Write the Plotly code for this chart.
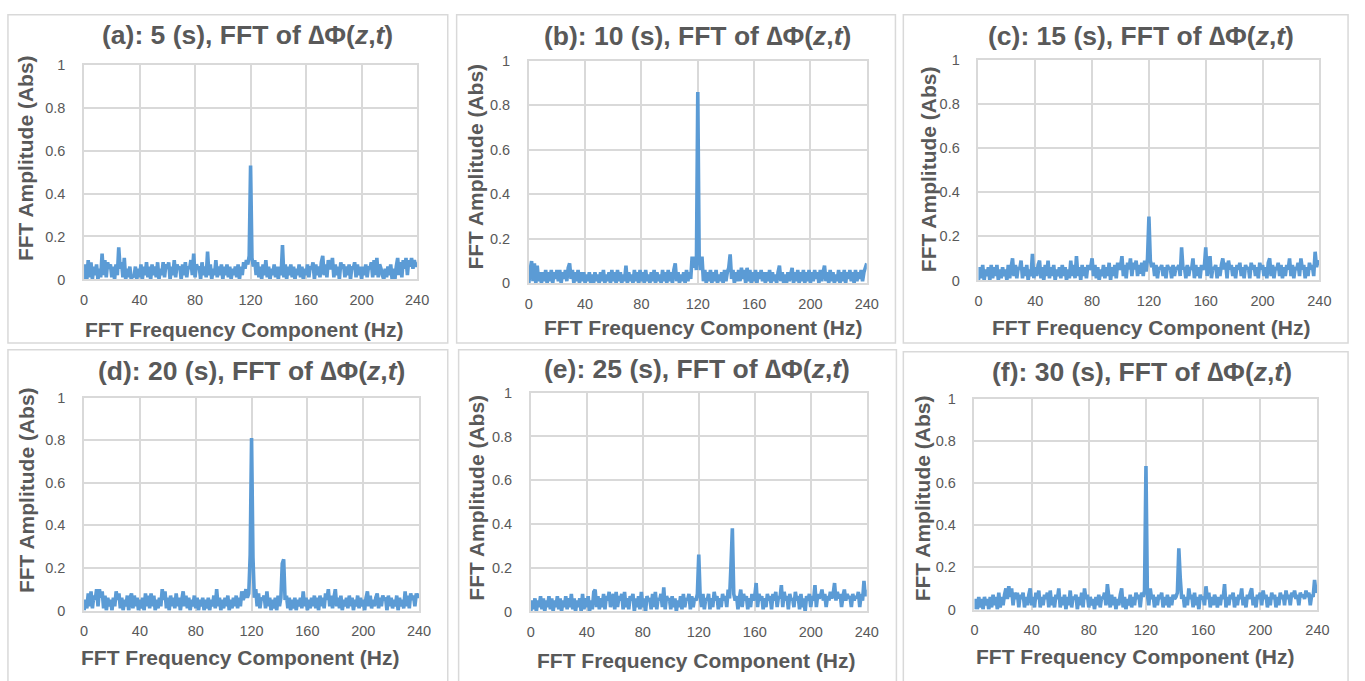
import plotly.graph_objects as go

# ---------------- data (FFT amplitude, 1 Hz bins, 0..240 Hz) ----------------
panel_titles = [
    "(a): 5 (s), FFT of ∆Φ(<i>z</i>,<i>t</i>)",
    "(b): 10 (s), FFT of ∆Φ(<i>z</i>,<i>t</i>)",
    "(c): 15 (s), FFT of ∆Φ(<i>z</i>,<i>t</i>)",
    "(d): 20 (s), FFT of ∆Φ(<i>z</i>,<i>t</i>)",
    "(e): 25 (s), FFT of ∆Φ(<i>z</i>,<i>t</i>)",
    "(f): 30 (s), FFT of ∆Φ(<i>z</i>,<i>t</i>)",
]
x_title = "FFT Frequency Component (Hz)"
y_title = "FFT Amplitude (Abs)"
x_ticks = [0, 40, 80, 120, 160, 200, 240]
y_ticks = [0, 0.2, 0.4, 0.6, 0.8, 1]

amp_a = [
    .00,.07,.00,.09,.01,.08,.00,.06,.02,.07,
    .00,.05,.01,.12,.02,.09,.01,.08,.05,.07,
    .01,.06,.00,.07,.02,.15,.05,.08,.01,.10,
    .00,.05,.01,.06,.00,.02,.01,.06,.00,.05,
    .01,.07,.00,.06,.02,.08,.01,.06,.00,.07,
    .02,.06,.01,.08,.00,.05,.02,.08,.01,.07,
    .05,.08,.00,.06,.02,.09,.01,.07,.05,.06,
    .00,.07,.02,.08,.01,.06,.05,.09,.02,.12,
    .01,.07,.05,.06,.00,.08,.02,.06,.01,.13,
    .02,.07,.00,.05,.02,.09,.01,.06,.02,.07,
    .00,.06,.02,.07,.01,.06,.00,.05,.02,.06,
    .01,.07,.00,.06,.02,.08,.05,.09,.07,.11,
    .53,.10,.06,.09,.02,.08,.01,.06,.00,.07,
    .02,.09,.01,.06,.00,.05,.02,.07,.01,.06,
    .00,.06,.02,.16,.01,.07,.00,.06,.02,.07,
    .01,.06,.00,.05,.02,.07,.01,.06,.00,.05,
    .02,.07,.01,.06,.05,.08,.00,.07,.02,.06,
    .01,.08,.11,.02,.07,.01,.09,.05,.06,.10,
    .01,.07,.02,.06,.00,.08,.05,.07,.01,.06,
    .02,.07,.00,.06,.05,.08,.01,.07,.02,.06,
    .00,.06,.02,.07,.01,.06,.05,.08,.01,.09,
    .02,.10,.01,.07,.05,.02,.00,.05,.01,.06,
    .02,.07,.00,.05,.00,.06,.10,.02,.08,.01,
    .09,.05,.10,.02,.09,.06,.10,.05,.09,.06,
    .08,
]
amp_b = [
    .00,.06,.10,.01,.09,.00,.08,.01,.05,.00,
    .05,.01,.06,.00,.05,.01,.06,.00,.05,.02,
    .06,.01,.06,.00,.05,.02,.06,.01,.07,.09,
    .02,.06,.00,.05,.01,.06,.00,.05,.01,.05,
    .00,.04,.01,.05,.00,.04,.00,.05,.01,.04,
    .00,.05,.01,.06,.00,.04,.01,.05,.00,.06,
    .01,.05,.00,.06,.01,.05,.00,.04,.01,.08,
    .00,.05,.01,.04,.00,.06,.01,.05,.00,.06,
    .01,.05,.00,.06,.01,.04,.00,.05,.01,.06,
    .00,.05,.01,.04,.00,.06,.01,.05,.00,.06,
    .01,.05,.00,.06,.09,.01,.05,.00,.04,.01,
    .05,.00,.06,.01,.05,.02,.12,.07,.12,.06,
    .86,.12,.06,.12,.01,.06,.00,.05,.01,.06,
    .00,.05,.01,.06,.00,.04,.01,.05,.00,.06,
    .01,.05,.07,.13,.02,.06,.00,.05,.01,.06,
    .01,.07,.02,.06,.00,.07,.01,.06,.00,.05,
    .01,.06,.00,.05,.02,.06,.01,.05,.00,.05,
    .01,.06,.00,.05,.01,.04,.00,.05,.08,.01,
    .05,.00,.04,.00,.05,.01,.04,.07,.00,.05,
    .01,.06,.00,.05,.01,.06,.00,.05,.01,.06,
    .00,.05,.01,.06,.02,.05,.00,.06,.01,.05,
    .08,.01,.05,.00,.06,.01,.05,.00,.04,.01,
    .06,.00,.05,.01,.06,.00,.05,.02,.06,.01,
    .05,.00,.06,.01,.05,.02,.06,.01,.05,.07,
    .09,
]
amp_c = [
    .00,.06,.01,.07,.00,.05,.02,.06,.00,.07,
    .01,.06,.02,.07,.00,.05,.01,.06,.02,.05,
    .00,.07,.01,.06,.10,.02,.07,.01,.06,.05,
    .09,.01,.06,.02,.07,.00,.05,.02,.12,.01,
    .06,.02,.07,.09,.01,.06,.00,.07,.02,.09,
    .01,.06,.02,.07,.00,.05,.02,.06,.01,.07,
    .02,.06,.00,.05,.01,.09,.02,.07,.01,.11,
    .02,.06,.00,.07,.02,.06,.01,.07,.05,.06,
    .10,.02,.07,.01,.06,.00,.05,.02,.07,.01,
    .06,.02,.08,.00,.06,.02,.07,.01,.08,.05,
    .06,.11,.02,.07,.01,.08,.05,.10,.02,.08,
    .05,.09,.02,.07,.03,.08,.02,.09,.04,.10,
    .29,.09,.06,.08,.02,.07,.01,.06,.05,.07,
    .02,.06,.01,.07,.05,.06,.01,.07,.02,.06,
    .05,.07,.02,.15,.05,.06,.01,.07,.02,.06,
    .05,.10,.01,.07,.02,.06,.01,.07,.05,.06,
    .15,.02,.07,.11,.01,.06,.05,.07,.01,.06,
    .02,.07,.10,.05,.08,.01,.09,.05,.07,.02,
    .06,.01,.07,.05,.08,.02,.06,.01,.07,.05,
    .06,.01,.08,.05,.07,.02,.06,.01,.08,.05,
    .07,.02,.06,.01,.08,.10,.02,.07,.01,.06,
    .05,.08,.02,.07,.01,.06,.02,.07,.05,.10,
    .02,.07,.01,.06,.05,.08,.02,.10,.05,.07,
    .01,.06,.02,.08,.05,.07,.02,.13,.06,.09,
    .07,
]
amp_d = [
    .00,.05,.01,.08,.02,.09,.01,.07,.05,.10,
    .02,.10,.06,.09,.01,.07,.00,.06,.02,.05,
    .00,.06,.02,.09,.05,.08,.01,.06,.00,.05,
    .02,.07,.00,.06,.08,.01,.07,.02,.06,.00,
    .05,.01,.06,.00,.08,.02,.07,.01,.08,.02,
    .07,.00,.05,.01,.06,.02,.10,.05,.09,.01,
    .06,.00,.07,.02,.06,.01,.08,.02,.06,.00,
    .05,.09,.02,.07,.01,.06,.00,.05,.02,.07,
    .01,.06,.00,.05,.02,.06,.00,.05,.01,.06,
    .00,.05,.02,.07,.01,.10,.02,.06,.00,.05,
    .01,.06,.02,.07,.00,.05,.01,.06,.02,.07,
    .01,.06,.02,.09,.05,.07,.10,.06,.08,.26,
    .81,.25,.06,.10,.02,.08,.01,.06,.05,.07,
    .01,.09,.02,.06,.00,.05,.01,.06,.00,.07,
    .02,.06,.22,.24,.05,.07,.01,.06,.00,.05,
    .01,.06,.00,.05,.02,.06,.01,.09,.02,.06,
    .00,.05,.01,.06,.02,.07,.01,.06,.00,.07,
    .02,.06,.01,.08,.05,.10,.02,.07,.01,.06,
    .10,.02,.06,.01,.07,.00,.05,.02,.06,.01,
    .07,.02,.06,.00,.05,.02,.07,.01,.06,.02,
    .05,.00,.06,.09,.02,.07,.01,.05,.02,.06,
    .08,.01,.06,.02,.07,.05,.06,.00,.07,.02,
    .06,.01,.05,.02,.07,.00,.06,.02,.05,.01,
    .09,.02,.07,.01,.08,.05,.07,.02,.08,.06,
    .08,
]
amp_e = [
    .00,.05,.01,.06,.00,.05,.02,.07,.01,.06,
    .00,.05,.02,.07,.01,.06,.00,.05,.02,.07,
    .01,.06,.00,.05,.02,.07,.01,.06,.02,.08,
    .01,.06,.00,.05,.02,.06,.00,.08,.01,.06,
    .02,.07,.00,.05,.01,.09,.10,.02,.07,.01,
    .06,.02,.08,.01,.07,.05,.09,.02,.06,.08,
    .01,.09,.02,.07,.05,.08,.01,.09,.02,.06,
    .01,.07,.05,.08,.00,.06,.02,.07,.01,.09,
    .02,.06,.00,.07,.05,.06,.01,.08,.02,.09,
    .01,.06,.05,.08,.02,.11,.01,.07,.05,.06,
    .01,.07,.02,.06,.00,.05,.02,.07,.01,.08,
    .02,.06,.05,.08,.01,.07,.02,.06,.05,.08,
    .26,.07,.02,.08,.01,.06,.05,.08,.01,.06,
    .02,.09,.05,.07,.01,.06,.02,.08,.05,.07,
    .02,.10,.06,.21,.38,.08,.05,.07,.01,.06,
    .10,.02,.08,.05,.07,.01,.06,.02,.08,.05,
    .07,.13,.02,.08,.05,.07,.01,.06,.02,.08,
    .05,.07,.01,.08,.05,.09,.02,.07,.06,.12,
    .02,.09,.05,.07,.01,.08,.05,.06,.02,.09,
    .05,.07,.01,.08,.02,.06,.00,.07,.05,.08,
    .02,.07,.05,.12,.02,.08,.06,.07,.10,.05,
    .08,.02,.07,.05,.09,.06,.08,.13,.05,.09,
    .06,.08,.02,.07,.10,.05,.08,.06,.07,.02,
    .08,.05,.07,.06,.09,.02,.08,.05,.14,.07,
    .10,
]
amp_f = [
    .00,.05,.00,.06,.01,.05,.00,.06,.02,.05,
    .00,.06,.01,.07,.02,.06,.00,.08,.01,.06,
    .02,.07,.10,.05,.11,.06,.10,.02,.08,.05,
    .08,.01,.07,.05,.08,.01,.06,.02,.07,.10,
    .02,.06,.01,.08,.05,.09,.01,.06,.02,.07,
    .05,.08,.01,.09,.02,.06,.01,.07,.05,.10,
    .01,.06,.02,.07,.00,.06,.02,.09,.01,.06,
    .05,.07,.00,.06,.02,.08,.01,.10,.05,.07,
    .01,.06,.02,.05,.00,.06,.02,.07,.01,.06,
    .05,.08,.02,.12,.06,.01,.07,.02,.06,.00,
    .05,.02,.07,.10,.01,.06,.00,.05,.02,.07,
    .01,.06,.02,.08,.05,.07,.01,.08,.06,.09,
    .68,.07,.02,.10,.05,.07,.01,.06,.02,.07,
    .05,.08,.01,.06,.02,.07,.01,.06,.02,.07,
    .05,.06,.08,.29,.15,.05,.07,.01,.06,.02,
    .10,.05,.07,.01,.08,.02,.06,.00,.07,.05,
    .06,.02,.11,.05,.08,.01,.06,.02,.07,.05,
    .01,.06,.02,.07,.05,.12,.01,.06,.02,.07,
    .05,.08,.01,.06,.02,.07,.05,.10,.02,.06,
    .01,.07,.05,.08,.10,.02,.06,.01,.07,.05,
    .08,.02,.09,.05,.07,.01,.06,.02,.08,.05,
    .07,.01,.06,.02,.08,.05,.07,.02,.09,.05,
    .07,.02,.08,.06,.09,.05,.07,.02,.08,.06,
    .07,.05,.09,.06,.08,.02,.07,.06,.14,.08,
    .10,
]
amplitudes = [amp_a, amp_b, amp_c, amp_d, amp_e, amp_f]

# ---------------- layout (pixel geometry) ----------------
W, H = 1365, 681
FONT = "Liberation Sans, Arial, sans-serif"
GRAY = "#595959"
GRID = "#d9d9d9"
BLUE = "#5b9bd5"

# plot areas: (x0, x1, ytop, ybottom) in pixels
plot_px = [
    (81, 418, 58, 278),
    (531, 873, 54, 282),
    (986, 1331, 53, 279),
    (81, 420, 399, 617),
    (533, 873, 394, 618),
    (982, 1329, 400, 616),
]
title_px = [(246, 28), (702, 29), (1150, 29), (250, 372), (701, 370), (1151, 373)]
xt_px = [(243, 329), (708, 327), (1161, 327), (239, 665), (701, 668), (1145, 664)]
yt_px = [(22, 154), (477, 162), (935, 165), (23, 494), (478, 501), (929, 502)]
box_px = [
    (4, 449, 7, 343),
    (458, 902, 7, 343),
    (910, 1360, 7, 343),
    (4, 449, 350, 690),
    (460, 903, 350, 690),
    (910, 1360, 352, 690),
]


def fx(px):
    return px / W


def fy(py):
    return 1 - py / H


fig = go.Figure()
annotations = []
shapes = []
layout_axes = {}

for i, amp in enumerate(amplitudes):
    n = i + 1
    xa = "x" if n == 1 else f"x{n}"
    ya = "y" if n == 1 else f"y{n}"
    freq = list(range(len(amp)))
    fig.add_trace(go.Scatter(
        x=freq, y=amp, mode="lines", xaxis=xa, yaxis=ya,
        line=dict(color=BLUE, width=3.6, simplify=False),
        hoverinfo="skip", showlegend=False,
    ))
    x0, x1, yt, yb = plot_px[i]
    common = dict(
        showgrid=True, gridcolor=GRID, gridwidth=1.5, zeroline=False,
        showline=True, linecolor=GRID, linewidth=1.5, mirror=True,
        ticks="", tickfont=dict(family=FONT, size=14.5, color=GRAY),
        fixedrange=True,
    )
    layout_axes["xaxis" if n == 1 else f"xaxis{n}"] = dict(
        domain=[fx(x0), fx(x1)], anchor=ya, range=[0, 240],
        tickvals=x_ticks, ticklabelstandoff=6, **common,
    )
    layout_axes["yaxis" if n == 1 else f"yaxis{n}"] = dict(
        domain=[fy(yb), fy(yt)], anchor=xa, range=[0, 1],
        tickvals=y_ticks, ticklabelstandoff=14, **common,
    )
    tx, ty = title_px[i]
    annotations.append(dict(
        text=f"<b>{panel_titles[i]}</b>", x=fx(tx), y=fy(ty), xref="paper", yref="paper",
        xanchor="center", yanchor="middle", showarrow=False,
        font=dict(family=FONT, size=26.5, color=GRAY),
    ))
    ax_, ay_ = xt_px[i]
    annotations.append(dict(
        text=f"<b>{x_title}</b>", x=fx(ax_), y=fy(ay_), xref="paper", yref="paper",
        xanchor="center", yanchor="middle", showarrow=False,
        font=dict(family=FONT, size=21, color=GRAY),
    ))
    bx, by = yt_px[i]
    annotations.append(dict(
        text=f"<b>{y_title}</b>", x=fx(bx), y=fy(by), xref="paper", yref="paper",
        xanchor="center", yanchor="middle", showarrow=False, textangle=-90,
        font=dict(family=FONT, size=21, color=GRAY),
    ))
    l, r, t, b = box_px[i]
    shapes.append(dict(
        type="rect", xref="paper", yref="paper",
        x0=fx(l), x1=fx(r), y0=fy(b), y1=fy(t),
        line=dict(color=GRID, width=1.5), fillcolor="rgba(0,0,0,0)", layer="below",
    ))

fig.update_layout(
    width=W, height=H, autosize=False,
    margin=dict(l=0, r=0, t=0, b=0),
    paper_bgcolor="white", plot_bgcolor="white",
    showlegend=False, annotations=annotations, shapes=shapes,
    **layout_axes,
)

fig.write_html(
    "out.html",
    config={"displayModeBar": False},
    post_script="document.body.style.margin='0';document.body.style.overflow='hidden';",
)
